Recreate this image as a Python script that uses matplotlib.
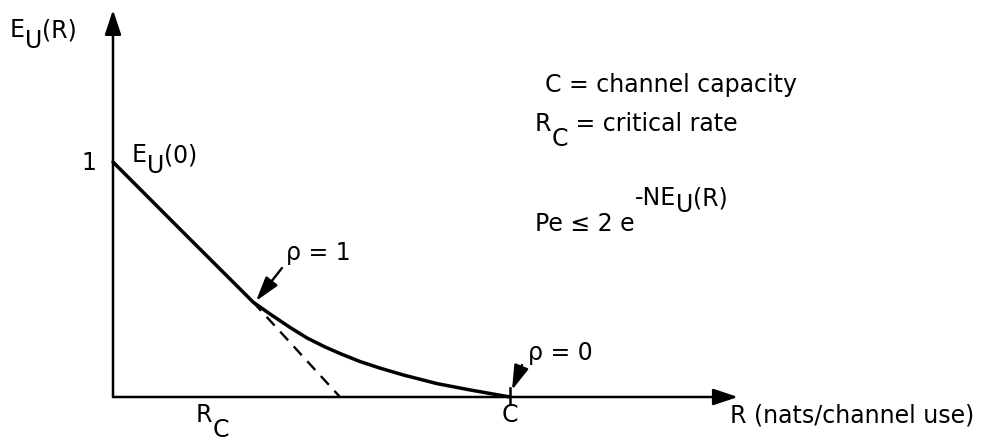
import matplotlib
matplotlib.use("Agg")
import matplotlib.pyplot as plt
import matplotlib.transforms as mtransforms

# Exponent curve E_U(R) (nats/channel use), read at sample rates
rate = [0.0, 0.308, 0.529, 0.617, 0.692, 0.780, 0.855, 0.934, 1.000, 1.088,
        1.176, 1.278, 1.427, 1.573, 1.661, 1.749]
exponent = [1.0, 0.702, 0.489, 0.404, 0.353, 0.296, 0.251, 0.213, 0.185, 0.151,
            0.123, 0.094, 0.057, 0.030, 0.015, 0.0]

capacity = 1.749         # C
critical_rate = 0.617    # R_C
critical_exp = 0.404     # E_U(R_C)
tangent_root = 1.0       # where the straight-line bound meets the R axis
x_max, y_max = 2.753, 1.647

fig = plt.figure(figsize=(9.84, 4.47), dpi=100)
ax = fig.add_axes([0, 0, 1, 1])

# page layout: 227 px per nat horizontally, 235 px per unit vertically
sx, sy, ox, oy = 227.0, 235.0, 113.0, 397.0


def px(x, y):
    return (x - ox) / sx, (oy - y) / sy


ax.set_xlim(px(0, 0)[0], px(984, 0)[0])
ax.set_ylim(px(0, 447)[1], px(0, 0)[1])
ax.axis("off")

K = "black"
FS = 17

# axes with arrowheads
head = dict(arrowstyle="-|>,head_length=1.5,head_width=0.5", color=K, lw=1.8,
            mutation_scale=10, shrinkA=0, shrinkB=0)
ax.annotate("", xy=(0, y_max), xytext=(0, 0), arrowprops=head)
ax.annotate("", xy=(x_max, 0), xytext=(0, 0), arrowprops=head)

# curve and tangent extension
ax.plot(rate, exponent, color=K, lw=2.5, solid_capstyle="round",
        solid_joinstyle="round")
ax.plot([critical_rate, tangent_root], [critical_exp, 0], color=K, lw=1.7,
        dashes=(5, 3.5))

# tick at C
ax.plot([capacity, capacity], [px(0, 388)[1], px(0, 404)[1]], color=K, lw=1.8)

fig.canvas.draw()
renderer = fig.canvas.get_renderer()


def rich(x, y, pieces, size=FS):
    """Draw text pieces side by side; each piece has a vertical shift in px."""
    dx = 0.0
    for s, dy in pieces:
        tr = mtransforms.offset_copy(ax.transData, fig=fig, x=dx, y=dy, units="dots")
        t = ax.text(x, y, s, transform=tr, fontsize=size, va="baseline",
                    ha="left", color=K)
        dx += t.get_window_extent(renderer).width


# axis labels
rich(*px(10, 37), [("E", 0), ("U", -11), ("(R)", 0)])
rich(*px(132, 162), [("E", 0), ("U", -11), ("(0)", 0)])
ax.text(*px(96, 170), "1", fontsize=FS, ha="right", va="baseline", color=K)
rich(*px(196, 422), [("R", 0), ("C", -15)])
ax.text(capacity, px(0, 422)[1], "C", fontsize=FS, ha="center", va="baseline", color=K)
ax.text(*px(730, 422), "R (nats/channel use)", fontsize=FS, ha="left",
        va="baseline", color=K)

# notes
rich(*px(545, 92), [("C = channel capacity", 0)])
rich(*px(535, 131), [("R", 0), ("C", -15), (" = critical rate", 0)])
rich(*px(535, 231), [("Pe \u2264 2 e", 0), ("-NE", 26), ("U", 19), ("(R)", 26)])

# rho markers
arrow = dict(arrowstyle="-|>,head_length=1.5,head_width=0.45", color=K, lw=1.7,
             mutation_scale=10, shrinkA=0, shrinkB=0)
ax.annotate("", xy=px(256, 301), xytext=px(282, 268), arrowprops=arrow)
ax.text(*px(286, 260), "\u03c1 = 1", fontsize=FS, ha="left", va="baseline", color=K)
ax.annotate("", xy=px(512, 390), xytext=px(522, 365), arrowprops=arrow)
ax.text(*px(528, 360), "\u03c1 = 0", fontsize=FS, ha="left", va="baseline", color=K)

fig.savefig("out.png", dpi=100, facecolor="white")
